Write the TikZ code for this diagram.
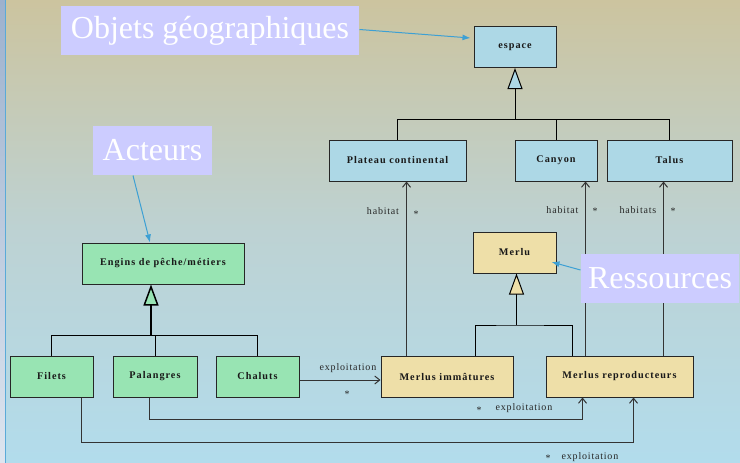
\documentclass[tikz,border=0pt]{standalone}
\usepackage{fontspec}
\setmainfont{Liberation Serif}
\newfontfamily\boxfont[LetterSpace=10]{Liberation Serif}
\newfontfamily\lblfont[LetterSpace=8]{Liberation Serif}
\usetikzlibrary{arrows.meta,calc}
\definecolor{bgtop}{HTML}{CCC49F}
\definecolor{bgmid}{HTML}{BDD2D3}
\definecolor{bgbot}{HTML}{B2DCEC}
\definecolor{stripetop}{HTML}{9DB1CD}
\definecolor{stripebot}{HTML}{DDE5EF}
\definecolor{stripeline}{HTML}{5AAAD8}
\definecolor{geoblue}{HTML}{ADD8E6}
\definecolor{actgreen}{HTML}{98E4B3}
\definecolor{reswheat}{HTML}{EEDFA8}
\definecolor{notebg}{HTML}{CCCCFF}
\definecolor{notearrow}{HTML}{3DA0D4}

\begin{document}
\begin{tikzpicture}[x=1pt, y=-1pt, line width=1pt,
	cls/.style={draw=black!85, minimum height=41pt, inner sep=0pt, text=black!90,
		font=\boxfont\bfseries\fontsize{10.2}{12}\selectfont},
	geo/.style={cls, fill=geoblue},
	act/.style={cls, fill=actgreen},
	res/.style={cls, fill=reswheat},
	note/.style={fill=notebg, text=white, minimum height=49pt, inner sep=0pt,
		font=\fontsize{32}{34}\selectfont},
	lbl/.style={inner sep=0pt, text=black!85, font=\lblfont\fontsize{10}{12}\selectfont},
	assoc/.style={-{Straight Barb[length=5pt,width=8pt]}, draw=black!80},
	inh/.style={-{Triangle[open, length=21pt, width=15pt, fill=#1]}, draw=black},
	pointer/.style={-{Latex[length=8pt,width=6pt]}, draw=notearrow},
]
	\useasboundingbox (0,0) rectangle (740,463);
	\shade[top color=bgtop, bottom color=bgbot, middle color=bgmid] (0,0) rectangle (740,463);
	\shade[top color=stripetop, bottom color=stripebot] (0,0) rectangle (5,463);
	\draw[stripeline, line width=1.2pt] (5.6,0) -- (5.6,463);

	\node[geo, minimum width=82pt] (espace) at (515,47) {espace};
	\node[geo, minimum width=137pt] (plateau) at (397.5,160.5) {Plateau continental};
	\node[geo, minimum width=82pt] (canyon) at (556,160.5) {Canyon};
	\node[geo, minimum width=125pt] (talus) at (669.5,160.5) {Talus};

	\node[res, minimum width=83pt] (merlu) at (514.5,252.5) {Merlu};
	\node[res, minimum width=132pt] (imm) at (447,376.5) {Merlus immâtures};
	\node[res, minimum width=147pt] (repro) at (619.5,376.5) {Merlus reproducteurs};

	\node[act, minimum width=162pt] (engins) at (163,263.5) {Engins de pêche/métiers};
	\node[act, minimum width=83pt] (filets) at (51.5,376.5) {Filets};
	\node[act, minimum width=84pt] (palangres) at (155,376.5) {Palangres};
	\node[act, minimum width=83pt] (chaluts) at (257.5,376.5) {Chaluts};

	\coordinate (espbar) at (515,119);
	\draw (plateau.north) |- (espbar -| talus.north) -- (talus.north);
	\draw (canyon.north) -- (canyon.north |- espbar);
	\draw[inh=geoblue] (espbar) -- (espace.south);

	\coordinate (merbar) at (516.5,325);
	\draw ([xshift=95pt]imm.north west) |- (merbar) -| ([xshift=27pt]repro.north west);
	\draw[inh=reswheat] (merbar) -- (merbar |- merlu.south);

	\coordinate (engbar) at (151,335);
	\draw (filets.north) |- (engbar -| chaluts.north) -- (chaluts.north);
	\draw (palangres.north) -- (palangres.north |- engbar);
	\draw[inh=actgreen, line width=1.5pt] (engbar) -- (engbar |- engins.south);

	\coordinate (h1) at ([xshift=26pt]imm.north west);
	\coordinate (h2) at ([xshift=40pt]repro.north west);
	\coordinate (h3) at ([xshift=118pt]repro.north west);
	\draw[assoc] (h1) -- (h1 |- plateau.south);
	\draw[assoc] (h2) -- (h2 |- canyon.south);
	\draw[assoc] (h3) -- (h3 |- talus.south);
	\node[lbl] (hab1) at (383,211) {habitat};
	\node[lbl] (st1) at (416,214) {*};
	\node[lbl] (hab2) at (562.5,210) {habitat};
	\node[lbl] (st2) at (595,211) {*};
	\node[lbl] (hab3) at (638,210) {habitats};
	\node[lbl] (st3) at (673,211) {*};

	\draw[assoc] ([yshift=-3.5pt]chaluts.east) -- ([yshift=-3.5pt]imm.west);
	\node[lbl] (exp1) at (348,368) {exploitation};
	\node[lbl] (st4) at (347,394) {*};

	\coordinate (p1) at ([xshift=-6pt]palangres.south);
	\coordinate (p2) at ([xshift=37pt]repro.south west);
	\draw[assoc] (p1) -- ++(0,22) -| (p2);
	\node[lbl] (st5) at (479,410) {*};
	\node[lbl] (exp2) at (524,408) {exploitation};

	\coordinate (f1) at ([xshift=29.5pt]filets.south);
	\coordinate (f2) at ([xshift=88pt]repro.south west);
	\draw[assoc] (f1) -- ++(0,45) -| (f2);
	\node[lbl] (st6) at (548,458) {*};
	\node[lbl] (exp3) at (590,457) {exploitation};

	\node[note, minimum width=298pt] (objets) at (210,30.5) {Objets géographiques};
	\node[note, minimum width=119pt] (acteurs) at (152.5,150.5) {Acteurs};
	\node[note, minimum width=158pt] (ressources) at (660,278.5) {Ressources};
	\draw[pointer] ([yshift=1pt]objets.east) -- ([xshift=-3pt,yshift=9pt]espace.west);
	\draw[pointer] ([xshift=-19.5pt]acteurs.south) -- ([xshift=-13pt]engins.north);
	\draw[pointer] ([yshift=8.5pt]ressources.west) -- ([xshift=-5pt,yshift=-9.5pt]merlu.east);
\end{tikzpicture}
\end{document}
